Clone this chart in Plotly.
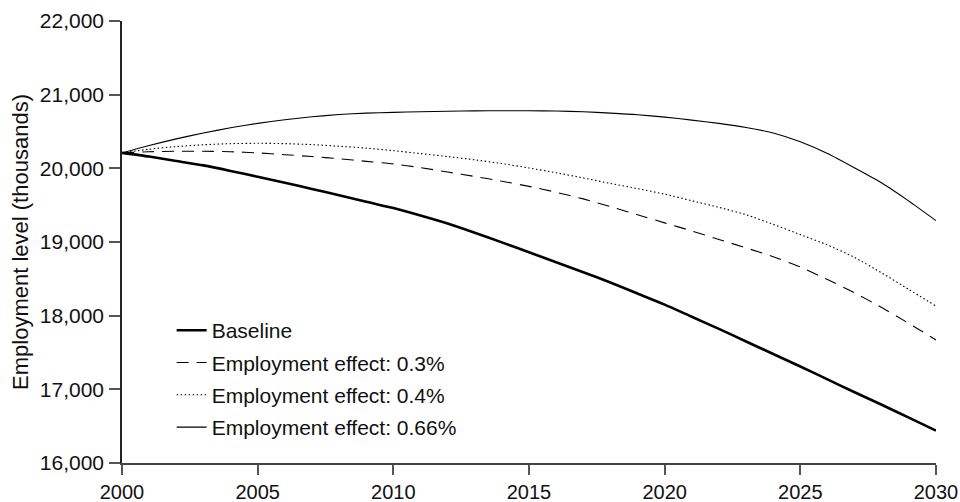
import plotly.graph_objects as go

years = list(range(2000, 2031))

baseline = [20210, 20160, 20100, 20040, 19965, 19885, 19805, 19720, 19635, 19545,
            19460, 19360, 19250, 19125, 18995, 18860, 18725, 18590, 18450, 18300,
            18150, 17985, 17820, 17650, 17480, 17310, 17135, 16960, 16790, 16615,
            16440]

effect_03 = [20210, 20225, 20232, 20232, 20225, 20210, 20185, 20160, 20130, 20095,
             20060, 20010, 19950, 19890, 19825, 19755, 19675, 19585, 19480, 19370,
             19260, 19150, 19035, 18920, 18800, 18660, 18490, 18310, 18110, 17895,
             17670]

effect_04 = [20210, 20260, 20295, 20320, 20335, 20340, 20335, 20322, 20300, 20275,
             20240, 20200, 20160, 20115, 20065, 20005, 19940, 19870, 19795, 19725,
             19650, 19560, 19470, 19370, 19240, 19100, 18960, 18790, 18580, 18355,
             18130]

effect_066 = [20210, 20310, 20400, 20480, 20550, 20610, 20660, 20700, 20730, 20750,
              20760, 20768, 20775, 20780, 20782, 20782, 20778, 20768, 20750, 20728,
              20695, 20655, 20610, 20555, 20480, 20360, 20200, 20005, 19800, 19555,
              19290]

series_names = ["Baseline", "Employment effect: 0.3%",
                "Employment effect: 0.4%", "Employment effect: 0.66%"]

x_ticks = [2000, 2005, 2010, 2015, 2020, 2025, 2030]
y_ticks = [16000, 17000, 18000, 19000, 20000, 21000, 22000]

FONT = "Liberation Sans, Arial, Helvetica, sans-serif"

fig = go.Figure()
styles = [
    dict(color="black", width=2.6, dash="solid"),
    dict(color="black", width=1.1, dash="12px,8px"),
    dict(color="black", width=1.1, dash="1.5px,2.5px"),
    dict(color="black", width=1.1, dash="solid"),
]
for i, (name, vals, st) in enumerate(zip(series_names,
                                         [baseline, effect_03, effect_04, effect_066],
                                         styles)):
    fig.add_trace(go.Scatter(x=years, y=vals, mode="lines", name=name,
                             line=dict(shape="spline", smoothing=0.6, **st),
                             legendgroup=f"g{i}", hoverinfo="skip"))

fig.update_layout(
    width=960, height=502,
    margin=dict(l=122, r=24, t=21, b=39),
    paper_bgcolor="white", plot_bgcolor="white",
    font=dict(family=FONT, size=21, color="#111"),
    showlegend=True,
    legend=dict(x=0.061, y=0.346, xanchor="left", yanchor="top",
                bgcolor="rgba(0,0,0,0)", font=dict(size=21, color="#111"),
                traceorder="grouped", tracegroupgap=2),
)
fig.update_xaxes(range=[2000, 2030], tickvals=x_ticks, ticks="outside", ticklen=10,
                 tickcolor="#555", tickwidth=1.5, showline=True, linecolor="#444",
                 linewidth=1.5, showgrid=False, zeroline=False, automargin=False,
                 tickfont=dict(size=20, family=FONT, color="#111"))
fig.update_yaxes(range=[16000, 22000], tickvals=y_ticks, tickformat=",", ticks="outside",
                 ticklen=11, tickcolor="#555", tickwidth=1.5, showline=True,
                 linecolor="#222", linewidth=1.5, showgrid=False, zeroline=False,
                 automargin=False, ticklabelstandoff=1,
                 title=dict(text="Employment level (thousands)", standoff=5,
                            font=dict(size=22, family=FONT, color="#111")),
                 tickfont=dict(size=21, family=FONT, color="#111"))

fig.write_html("out.html")
